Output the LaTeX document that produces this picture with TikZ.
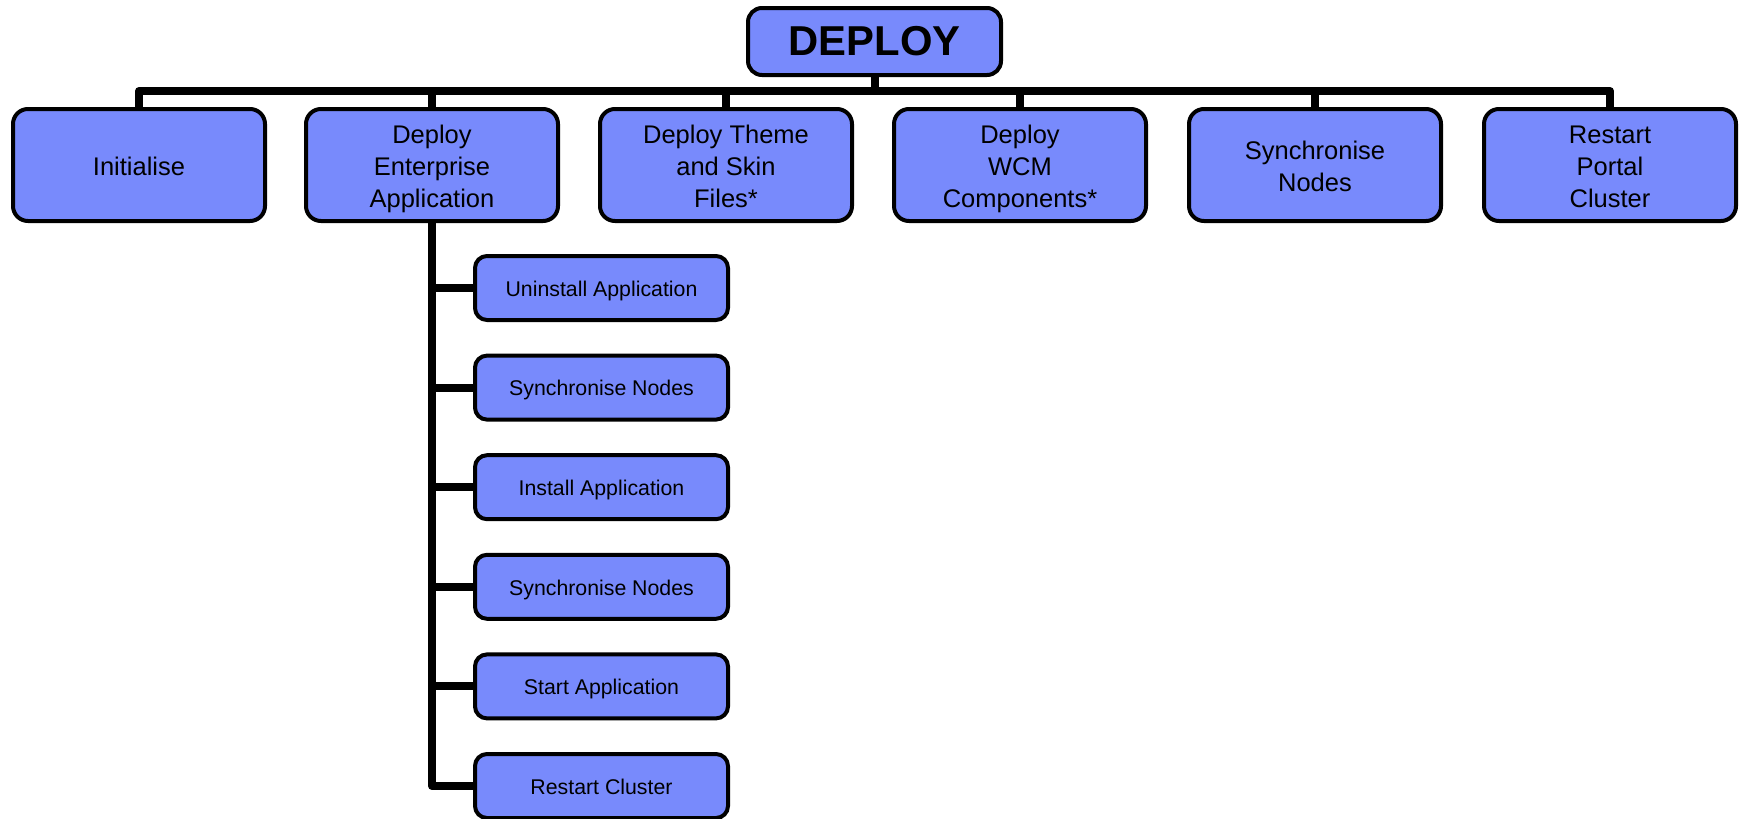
\documentclass[tikz,border=0pt]{standalone}
\usepackage{fontspec}
\setmainfont{Liberation Sans}
\definecolor{boxblue}{RGB}{120,138,252}
\newcommand\topstrut{\rule{0pt}{1.015em}}
\newcommand\botstrut{\rule[-0.23em]{0pt}{0pt}}
\begin{document}
\begin{tikzpicture}[x=1pt,y=-1pt,
  base/.style={draw=black, line width=4pt, fill=boxblue, inner sep=0pt, outer sep=0pt, align=center},
  topbox/.style={base, rounded corners=14pt, minimum width=253pt, minimum height=67pt, font=\fontsize{41.8}{48}\selectfont\bfseries},
  rowbox/.style={base, rounded corners=15pt, minimum width=252pt, minimum height=112pt, font=\fontsize{25.5}{32}\selectfont},
  subbox/.style={base, rounded corners=12pt, minimum width=253pt, minimum height=64pt, font=\fontsize{21.3}{26}\selectfont},
  link/.style={draw=black, line width=8pt, line join=round}
]
\useasboundingbox (0,0) rectangle (1740,819);
\node[topbox] (top) at (874.5,41.5) {DEPLOY};
\node[rowbox] (n1) at (139,165) {\topstrut Initialise\botstrut};
\node[rowbox] (n2) at (432,165) {\topstrut Deploy\\Enterprise\\Application\botstrut};
\node[rowbox] (n3) at (726,165) {\topstrut Deploy Theme\\and Skin\\Files*\botstrut};
\node[rowbox] (n4) at (1020,165) {\topstrut Deploy\\WCM\\Components*\botstrut};
\node[rowbox] (n5) at (1315,165) {\topstrut Synchronise\\Nodes\botstrut};
\node[rowbox] (n6) at (1610,165) {\topstrut Restart\\Portal\\Cluster\botstrut};
\coordinate (bar) at (0,91);
\node[subbox] (c1) at (601.5,288) {\topstrut Uninstall Application\botstrut};
\node[subbox] (c2) at (601.5,387.6) {\topstrut Synchronise Nodes\botstrut};
\node[subbox] (c3) at (601.5,487.2) {\topstrut Install Application\botstrut};
\node[subbox] (c4) at (601.5,586.8) {\topstrut Synchronise Nodes\botstrut};
\node[subbox] (c5) at (601.5,686.4) {\topstrut Start Application\botstrut};
\node[subbox] (c6) at (601.5,786) {\topstrut Restart Cluster\botstrut};
% connectors
\draw[link] (n1.north) -- (n1.north |- bar) -- (n6.north |- bar) -- (n6.north);
\draw[link] (top.south) -- (top.south |- bar);
\foreach \n in {n2,n3,n4,n5} \draw[link] (\n.north) -- (\n.north |- bar);
\draw[link] (n2.south) |- (c6.west);
\foreach \c in {c1,c2,c3,c4,c5} \draw[link] (n2.south |- \c.west) -- (\c.west);
\end{tikzpicture}
\end{document}
